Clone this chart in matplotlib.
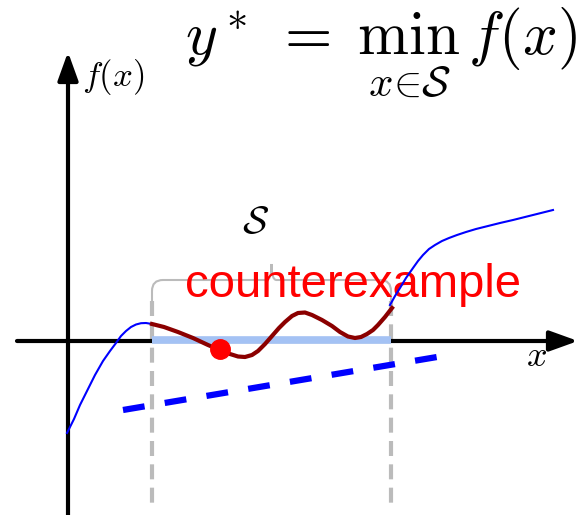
import matplotlib.pyplot as plt
from matplotlib.path import Path
from matplotlib.patches import PathPatch

plt.rcParams['mathtext.fontset'] = 'cm'

# f(x) outside the set S (left and right pieces)
x_left = [-0.01, 0.06, 0.12, 0.20, 0.27, 0.35, 0.42, 0.48, 0.53, 0.58, 0.63, 0.68, 0.73, 0.78, 0.84]
y_left = [-0.92, -0.78, -0.64, -0.48, -0.34, -0.20, -0.10, -0.02, 0.05, 0.10, 0.14, 0.165, 0.178, 0.18, 0.17]

x_right = [3.22, 3.27, 3.32, 3.38, 3.45, 3.50, 3.55, 3.61, 3.67, 3.74, 3.81, 3.89, 3.98,
           4.08, 4.20, 4.32, 4.45, 4.65, 4.85]
y_right = [0.36, 0.45, 0.53, 0.63, 0.73, 0.80, 0.86, 0.92, 0.96, 1.00, 1.03, 1.06, 1.09,
           1.12, 1.15, 1.18, 1.21, 1.26, 1.31]

# f(x) inside S
x_in = [0.84, 0.96, 1.10, 1.25, 1.40, 1.52, 1.62, 1.70, 1.77, 1.84, 1.90, 1.97, 2.04, 2.11,
        2.17, 2.24, 2.30, 2.37, 2.44, 2.54, 2.64, 2.72, 2.80, 2.87, 2.93, 2.99, 3.05, 3.10,
        3.17, 3.24]
y_in = [0.17, 0.14, 0.09, 0.03, -0.04, -0.09, -0.13, -0.155, -0.16, -0.14, -0.10, -0.03,
        0.05, 0.13, 0.19, 0.25, 0.28, 0.285, 0.26, 0.21, 0.15, 0.09, 0.045, 0.03, 0.04,
        0.07, 0.11, 0.16, 0.24, 0.33]

# the set S on the x axis
s_lo, s_hi = 0.84, 3.23

# counterexample point and the lower bound line
cx, cy = 1.52, -0.08
line_x = [0.55, 3.69]
line_y = [-0.69, -0.16]

fig = plt.figure(figsize=(5.85, 5.15), dpi=100)
ax = fig.add_axes([0, 0, 1, 1])
ax.set_xlim(-0.68, 5.17)
ax.set_ylim(-1.74, 3.41)
ax.axis('off')

# axes with arrows
arrow = dict(arrowstyle='-|>,head_length=0.86,head_width=0.31', lw=3, color='black',
             mutation_scale=20, shrinkA=0, shrinkB=0)
ax.annotate('', xy=(5.10, 0), xytext=(-0.51, 0), arrowprops=arrow, zorder=2)
ax.annotate('', xy=(0, 2.89), xytext=(0, -1.74), arrowprops=arrow, zorder=2)
ax.text(0.14, 2.64, '$f(x)$', fontsize=25, ha='left', va='center')
ax.text(4.68, -0.15, '$x$', fontsize=26, ha='center', va='center')

# bounds of S
for xv in (s_lo, s_hi):
    ax.plot([xv, xv], [0.40, -1.62], color='#bbbbbb', lw=3, ls=(0, (3.6, 2.0)), zorder=1)

# brace over S
mid = (s_lo + s_hi) / 2
yb0, yb1, yb2, yt = 0.36, 0.50, 0.61, 0.77
r = 0.11
verts = [(s_lo, yb0), (s_lo, yb1), (s_lo, yb2), (s_lo + r, yb2),
         (mid - 0.05, yb2), (mid, yb2), (mid, yt),
         (mid, yb2), (mid + 0.05, yb2),
         (s_hi - r, yb2), (s_hi, yb2), (s_hi, yb1), (s_hi, yb0 + 0.02)]
codes = [Path.MOVETO, Path.LINETO, Path.CURVE3, Path.CURVE3,
         Path.LINETO, Path.CURVE3, Path.CURVE3,
         Path.CURVE3, Path.CURVE3,
         Path.LINETO, Path.CURVE3, Path.CURVE3, Path.LINETO]
ax.add_patch(PathPatch(Path(verts, codes), fc='none', ec='#bbbbbb', lw=1.5, zorder=1))
ax.text(1.88, 1.19, r'$\mathcal{S}$', fontsize=28, ha='center', va='center')

# S on the axis
ax.plot([s_lo, s_hi], [0.01, 0.01], color='#a4c2f4', lw=5.5, solid_capstyle='butt', zorder=3)

ax.text(1.17, 0.44, 'counterexample', color='red', fontsize=34,
        family='Liberation Sans', ha='left', va='baseline', zorder=3)

# f(x)
ax.plot(x_left, y_left, color='blue', lw=1.5, zorder=4)
ax.plot(x_right, y_right, color='blue', lw=1.5, zorder=4)
ax.plot(x_in, y_in, color='#8b0000', lw=3, zorder=5, solid_joinstyle='round')

ax.plot(line_x, line_y, color='blue', lw=4.5, ls=(0, (3.5, 3.27)), zorder=4)
ax.plot([cx], [cy], 'o', color='red', ms=14, zorder=6)

ax.text(5.09, 2.86, r'$y^*\;=\;\min_{x \in \mathcal{S}}\, f(x)$', fontsize=44,
        ha='right', va='baseline')

fig.savefig('out.png', dpi=100)
